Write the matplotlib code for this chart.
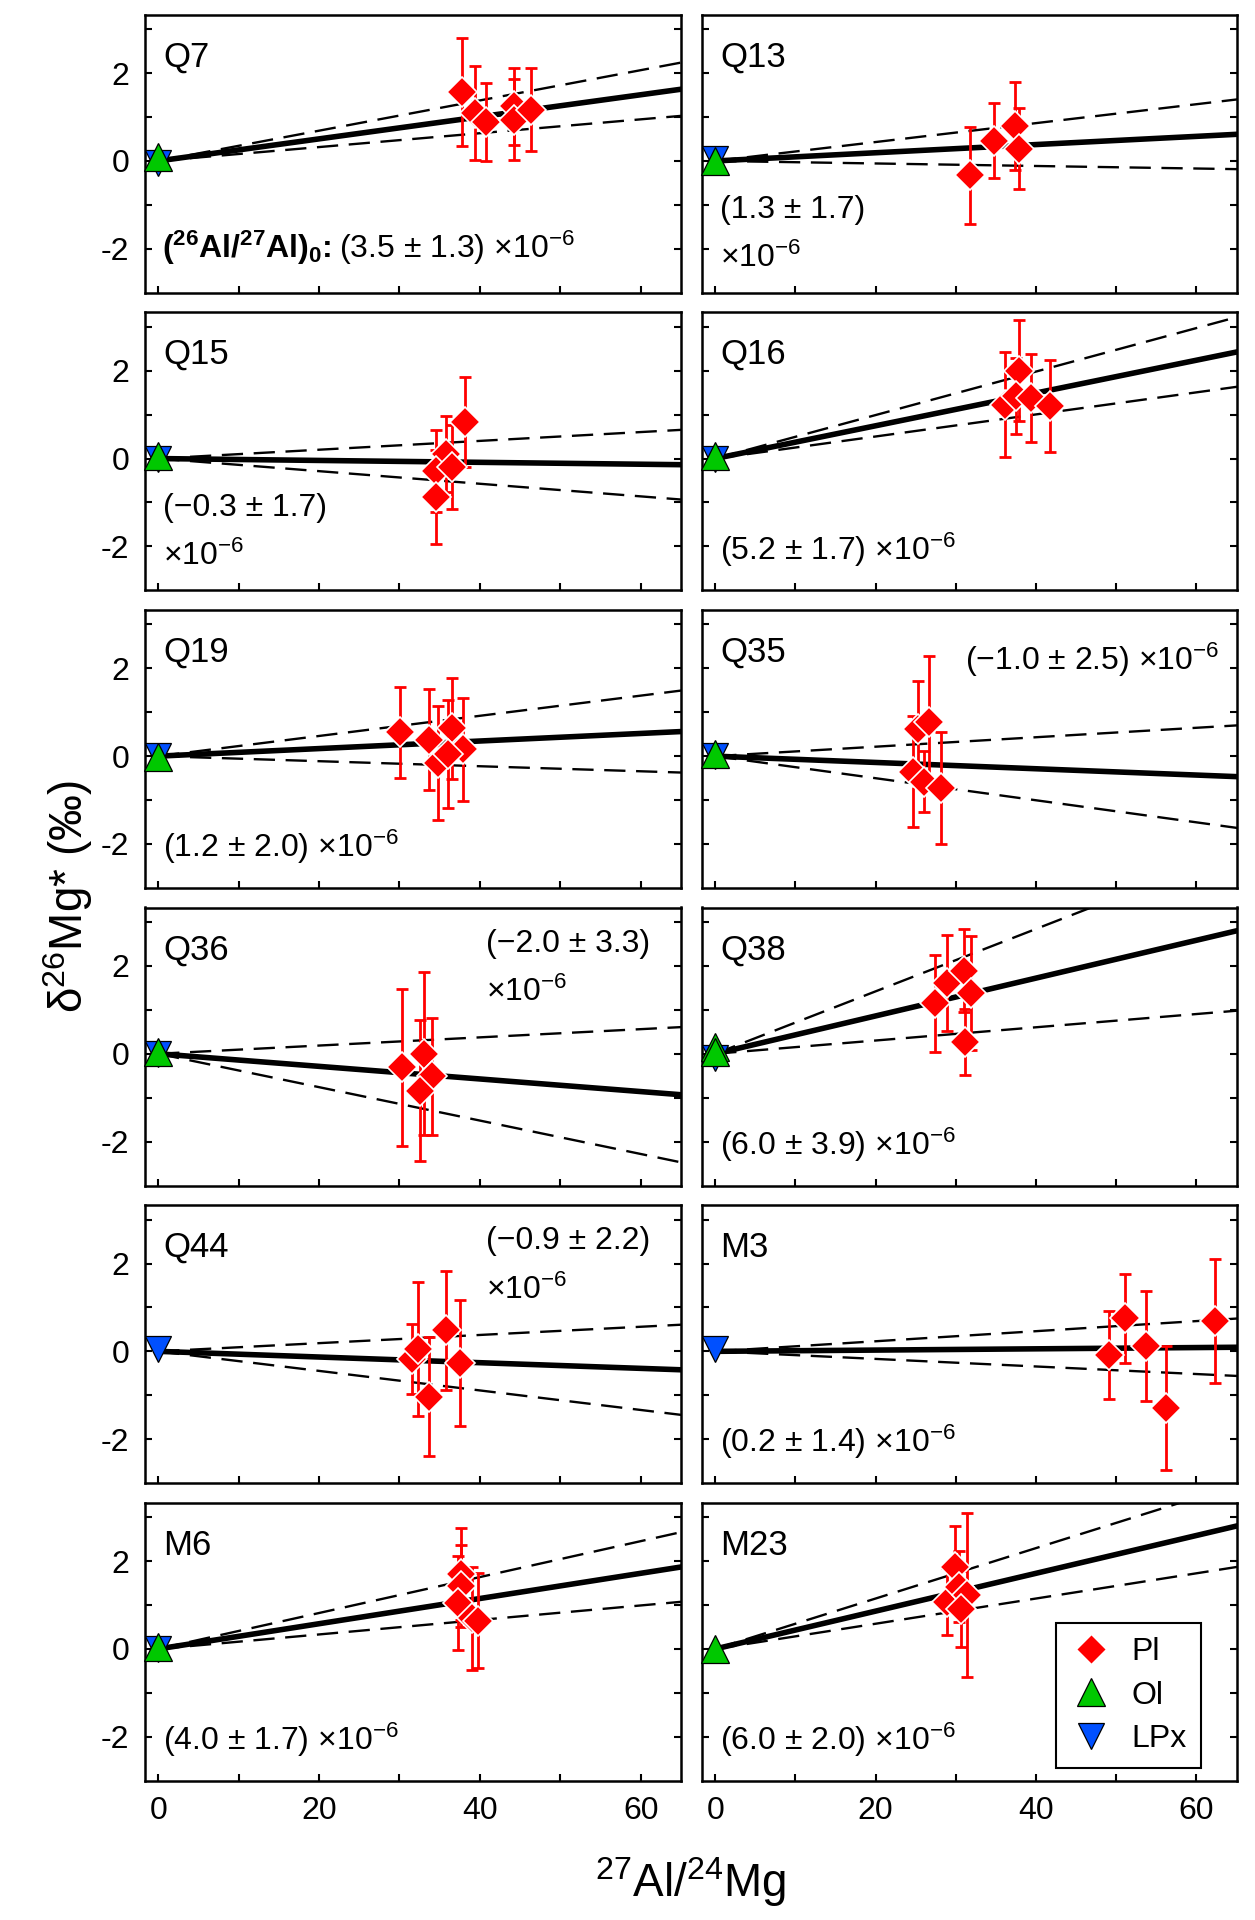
import numpy as np
import matplotlib.pyplot as plt
from matplotlib.lines import Line2D

plt.rcParams['font.family'] = ['Liberation Sans', 'DejaVu Sans']
plt.rcParams['mathtext.fontset'] = 'custom'
plt.rcParams['mathtext.rm'] = 'Liberation Sans'
plt.rcParams['mathtext.it'] = 'Liberation Sans:italic'
plt.rcParams['mathtext.bf'] = 'Liberation Sans:bold'
plt.rcParams['mathtext.default'] = 'regular'
plt.rcParams['axes.unicode_minus'] = False

# ---- data ----
samples = ['Q7', 'Q13', 'Q15', 'Q16', 'Q19', 'Q35', 'Q36', 'Q38', 'Q44', 'M3', 'M6', 'M23']
# inferred (26Al/27Al)0 in units of 1e-6 and its error
al0 = [3.5, 1.3, -0.3, 5.2, 1.2, -1.0, -2.0, 6.0, -0.9, 0.2, 4.0, 6.0]
al0_err = [1.3, 1.7, 1.7, 1.7, 2.0, 2.5, 3.3, 3.9, 2.2, 1.4, 1.7, 2.0]

# plagioclase: 27Al/24Mg, d26Mg*, error
pl_x = [
    [37.8, 39.4, 40.7, 44.2, 44.2, 46.4],
    [31.8, 34.8, 37.4, 37.9],
    [38.2, 35.8, 34.5, 36.5, 34.5],
    [36.1, 37.9, 37.5, 39.4, 41.7],
    [30.1, 33.7, 36.5, 37.9, 34.8, 36.0],
    [25.3, 26.6, 24.7, 26.0, 28.2],
    [30.3, 33.0, 34.0, 32.5],
    [27.4, 28.9, 31.0, 31.9, 31.1],
    [31.6, 32.3, 33.7, 35.8, 37.5],
    [49.1, 51.1, 53.7, 56.2, 62.3],
    [37.6, 37.6, 37.3, 39.0, 39.8],
    [29.9, 28.9, 30.4, 31.4, 30.7],
]
pl_y = [
    [1.58, 1.09, 0.88, 1.24, 0.94, 1.17],
    [-0.33, 0.46, 0.79, 0.28],
    [0.83, 0.11, -0.29, -0.20, -0.87],
    [1.23, 2.00, 1.43, 1.38, 1.20],
    [0.54, 0.37, 0.64, 0.16, -0.16, 0.05],
    [0.62, 0.77, -0.35, -0.58, -0.73],
    [-0.31, 0.00, -0.51, -0.84],
    [1.15, 1.61, 1.89, 1.39, 0.26],
    [-0.17, 0.05, -1.03, 0.48, -0.27],
    [-0.08, 0.75, 0.13, -1.29, 0.70],
    [1.71, 1.43, 1.04, 0.70, 0.64],
    [1.87, 1.08, 1.42, 1.23, 0.91],
]
pl_err = [
    [1.23, 1.07, 0.89, 0.87, 0.92, 0.95],
    [1.10, 0.85, 1.00, 0.92],
    [1.03, 0.87, 0.93, 0.96, 1.07],
    [1.20, 1.15, 0.86, 1.00, 1.05],
    [1.03, 1.15, 1.15, 1.17, 1.30, 1.22],
    [1.10, 1.50, 1.27, 0.70, 1.28],
    [1.78, 1.85, 1.33, 1.60],
    [1.10, 1.10, 0.95, 1.30, 0.75],
    [0.80, 1.52, 1.36, 1.35, 1.43],
    [1.00, 1.02, 1.25, 1.42, 1.41],
    [1.05, 0.93, 1.07, 1.17, 1.08],
    [0.93, 0.77, 0.80, 1.86, 0.86],
]
# olivine and low-Ca pyroxene (27Al/24Mg ~ 0)
ol_x = [[0], [0], [0], [0], [0], [0], [0], [0, 0], [], [], [0], [0]]
ol_y = [[0.08], [0.0], [0.05], [0.05], [-0.03], [0.05], [0.05], [0.15, 0.05], [], [], [0.05], [0.0]]
lpx_x = [[0], [0], [0], [0], [0], [0], [0], [0], [0], [0], [0], []]
lpx_y = [[-0.05], [0.05], [0.0], [0.0], [0.0], [0.0], [0.0], [-0.1], [0.05], [0.05], [0.0], []]

MG_REF = 0.13932  # (26Mg/24Mg) reference -> slope in permil per unit 27Al/24Mg

# annotation placement: (x, y of first baseline, ha, split into two lines)
note_pos = [
    (0.5, -2.2, 'left', False), (0.6, -1.3, 'left', True),
    (0.6, -1.3, 'left', True), (0.6, -2.3, 'left', False),
    (0.6, -2.3, 'left', False), (62.8, 1.96, 'right', False),
    (40.7, 2.32, 'left', True), (0.6, -2.3, 'left', False),
    (40.7, 2.32, 'left', True), (0.6, -2.3, 'left', False),
    (0.6, -2.3, 'left', False), (0.6, -2.3, 'left', False),
]

W, H = 1255.0, 1920.0
col_left = [144.5, 701.6]
col_w = [536.5, 535.0]
row_top0, row_step, row_h = 14.7, 297.6, 278.0

RED = '#ff0000'
GREEN = '#00c800'
BLUE = '#0050ff'
FS = 23
MS_D, MS_T = 15.5, 20


def fmt(v):
    return f'{v:.1f}'.replace('-', '\u2212')


fig = plt.figure(figsize=(W / 100, H / 100), dpi=100)
renderer = fig.canvas.get_renderer()

for i, name in enumerate(samples):
    r, c = divmod(i, 2)
    top = row_top0 + r * row_step
    ax = fig.add_axes([col_left[c] / W, 1 - (top + row_h) / H, col_w[c] / W, row_h / H])

    xx = np.array([0, 70])
    k = 1e-6 * 1000 / MG_REF
    ax.plot(xx, al0[i] * k * xx, color='black', lw=4, zorder=2, solid_capstyle='butt')
    for s in (-1, 1):
        ax.plot(xx, (al0[i] + s * al0_err[i]) * k * xx, color='black', lw=1.7,
                ls=(0, (9, 4.5)), zorder=2)

    ax.errorbar(pl_x[i], pl_y[i], yerr=pl_err[i], fmt='none', ecolor=RED,
                elinewidth=2, capsize=4.5, capthick=2, zorder=3)
    ax.plot(pl_x[i], pl_y[i], 'D', color=RED, ms=MS_D, mec='white', mew=1.2,
            ls='none', zorder=4)
    ax.plot(lpx_x[i], lpx_y[i], 'v', color=BLUE, ms=MS_T - 1, mec='black', mew=0.9,
            ls='none', zorder=5, clip_on=False)
    ax.plot(ol_x[i], ol_y[i], '^', color=GREEN, ms=MS_T, mec='black', mew=0.9,
            ls='none', zorder=6, clip_on=False)

    ax.set_xlim(-1.7, 65)
    ax.set_ylim(-3, 3.33)
    ax.set_xticks([0, 20, 40, 60])
    ax.set_xticks([10, 30, 50], minor=True)
    ax.set_yticks([-2, 0, 2])
    ax.set_yticks([-1, 1, 3], minor=True)
    ax.tick_params(which='both', direction='in', length=5, width=1.5,
                   left=True, right=True, bottom=True, top=False,
                   labelsize=FS, pad=11)
    if c == 1:
        ax.tick_params(labelleft=False)
    if r < 5:
        ax.tick_params(labelbottom=False)
    for sp in ax.spines.values():
        sp.set_linewidth(1.8)

    ax.text(0.65, 2.15, name, fontsize=25, ha='left', va='baseline')

    nx, ny, ha, two = note_pos[i]
    val = f'({fmt(al0[i])} \u00b1 {fmt(al0_err[i])})'
    exp = '\u00d710$^{-6}$'
    if i == 0:
        t1 = ax.text(nx, ny, '($^{26}$Al/$^{27}$Al)$_0$:', fontsize=FS,
                     fontweight='bold', ha='left', va='baseline')
        x1 = t1.get_window_extent(renderer).x1 + 7
        xd = ax.transData.inverted().transform((x1, 0))[0]
        ax.text(xd, ny, val + ' ' + exp, fontsize=FS, ha='left', va='baseline')
    elif two:
        ax.text(nx, ny, val, fontsize=FS, ha=ha, va='baseline')
        ax.text(nx, ny - 1.12, exp, fontsize=FS, ha=ha, va='baseline')
    else:
        ax.text(nx, ny, val + ' ' + exp, fontsize=FS, ha=ha, va='baseline')

    if name == 'M23':
        handles = [
            Line2D([], [], marker='D', color=RED, ms=MS_D, mec='white', ls='none'),
            Line2D([], [], marker='^', color=GREEN, ms=MS_T, mec='black', mew=0.9, ls='none'),
            Line2D([], [], marker='v', color=BLUE, ms=MS_T - 1, mec='black', mew=0.9, ls='none'),
        ]
        leg = ax.legend(handles, ['Pl', 'Ol', 'LPx'], loc='lower right',
                        bbox_to_anchor=(0.933, 0.044), borderaxespad=0,
                        fontsize=FS, fancybox=False, edgecolor='black',
                        framealpha=1, labelspacing=0.42, handletextpad=0.6,
                        borderpad=0.45, handlelength=1.3)
        leg.get_frame().set_linewidth(1.5)

fig.text(0.054, 0.533, '\u03b4$^{26}$Mg* (\u2030)', rotation=90, fontsize=33,
         ha='center', va='center')
fig.text(0.550, 0.020, '$^{27}$Al/$^{24}$Mg', fontsize=33, ha='center', va='center')

fig.savefig('out.png', dpi=100)
